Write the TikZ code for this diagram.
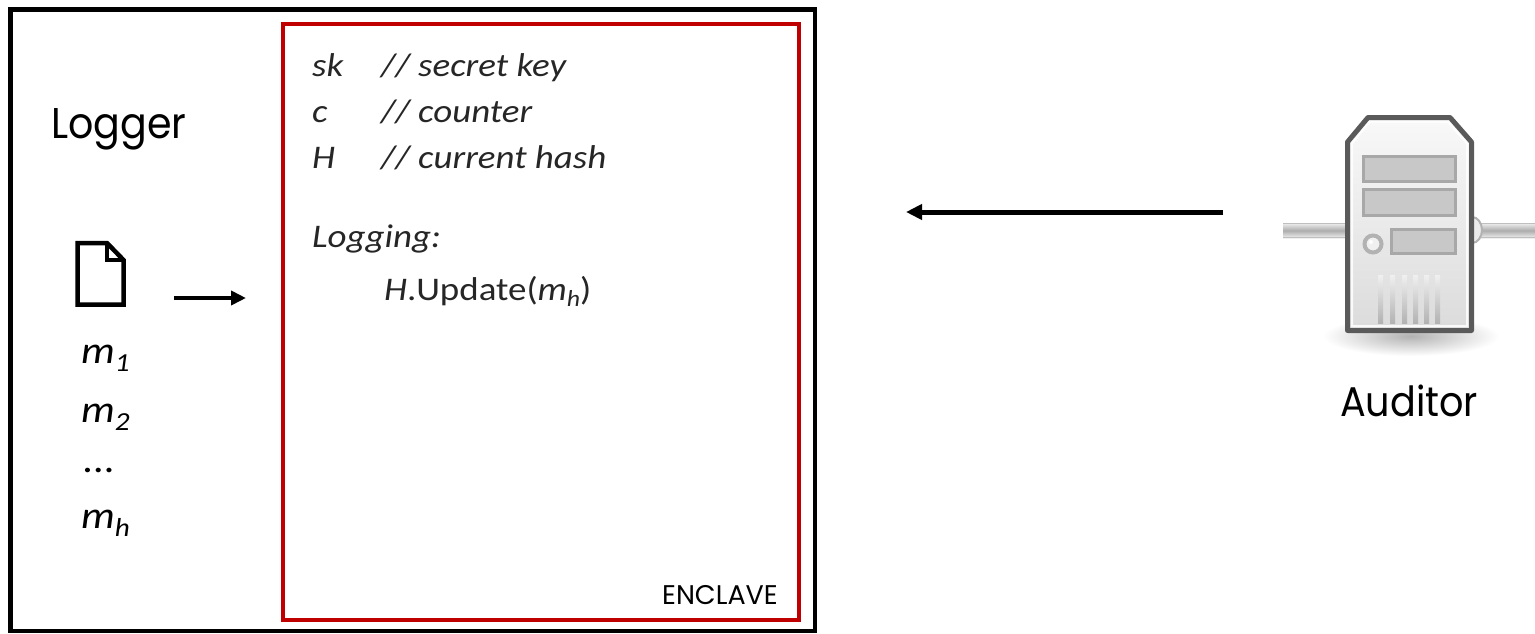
\documentclass[tikz,border=0pt]{standalone}
\usepackage{fontspec}
\setmainfont{Carlito}[FakeStretch=1.12]
\newfontfamily\geo{Poppins}
\newfontfamily\geon{Poppins}[FakeStretch=0.92]
\usetikzlibrary{arrows.meta}
\definecolor{enclavered}{HTML}{C00000}
\definecolor{srvline}{HTML}{5A5A5A}
\definecolor{bayfill}{HTML}{C8C8C8}
\definecolor{bayline}{HTML}{A8A8A8}
\definecolor{codetext}{HTML}{262626}
\newcommand\lowsub[3]{\raisebox{-#1pt}{\fontsize{#2}{#2}\selectfont\itshape #3}}
\begin{document}
\begin{tikzpicture}[x=1pt,y=-1pt,
  outerbox/.style={draw=black,line width=4.5pt},
  enclavebox/.style={draw=enclavered,line width=4pt},
  geotext/.style={font=\geon\fontsize{43}{50}\selectfont, inner sep=0pt, anchor=base west},
  code/.style={font=\fontsize{33}{38}\selectfont, text=codetext, inner sep=0pt, anchor=base west},
  msg/.style={font=\fontsize{38}{44}\selectfont\itshape, inner sep=0pt, anchor=base west},
  arrowline/.style={line width=4pt, -{Triangle[length=15pt,width=14pt]}},
  bay/.style={fill=bayfill, draw=bayline, line width=3pt},
  vent/.style={top color=gray!12, bottom color=gray!60},
]
\useasboundingbox (0,0) rectangle (1535,634);
\fill[white] (0,0) rectangle (1535,634);

% boxes
\draw[outerbox] (10.5,9.5) rectangle (815,631);
\draw[enclavebox] (283,24) rectangle (799,620);

% logger side
\node[geotext] (logger) at (51,138) {Logger};
\draw[line width=4.5pt, line join=miter] (77.5,243) -- (107,243) -- (123.5,260) -- (123.5,304.5) -- (77.5,304.5) -- cycle;
\draw[line width=4.5pt] (107,243) -- (107,260) -- (123.5,260);
\node[msg] (m1) at (81,363) {m\lowsub{8}{26}{1}};
\node[msg] (m2) at (81,422) {m\lowsub{8}{26}{2}};
\node[msg] (mdots) at (83,472) {...};
\node[msg] (mh) at (81,528) {m\lowsub{8}{26}{h}};

% enclave contents
\node[code] (sk) at (312,77) {\itshape sk};
\node[code] (skc) at (381,77) {\itshape // secret key};
\node[code] (c) at (312,122) {\itshape c};
\node[code] (cc) at (381,122) {\itshape // counter};
\node[code] (H) at (312,168) {\itshape H};
\node[code] (Hc) at (381,168) {\itshape // current hash};
\node[code] (logging) at (312,247) {\itshape Logging:};
\node[code] (update) at (384,300) {\textit{H}.Update(\textit{m}\lowsub{6}{23}{h})};
\node[font=\geo\fontsize{27}{30}\selectfont, inner sep=0pt, anchor=base east] (enc) at (778,604) {ENCLAVE};

% arrows
\coordinate (docout) at (174,298);
\coordinate (encin) at (246,298);
\draw[arrowline] (docout) -- (encin);
\coordinate (audout) at (1223,212);
\coordinate (encout) at (906,212);
\draw[line width=5pt, -{Triangle[length=16pt,width=15pt]}] (audout) -- (encout);

% server icon
\shade[inner color=gray!60, outer color=white] (1411,336) ellipse (88 and 20);
\shade[top color=gray!12, bottom color=gray!12, middle color=gray!65] (1283,223) rectangle (1350,238);
\draw[gray!50, line width=1pt] (1283,223.5) -- (1350,223.5) (1283,237.5) -- (1350,237.5);
\shade[top color=gray!12, bottom color=gray!12, middle color=gray!65] (1470,223) rectangle (1535,238);
\draw[gray!50, line width=1pt] (1470,223.5) -- (1535,223.5) (1470,237.5) -- (1535,237.5);
\filldraw[fill=gray!15, draw=gray!60, line width=2pt] (1472,230) ellipse (10 and 13);
\draw[top color=gray!5, bottom color=gray!28, draw=srvline, line width=5pt, line join=round]
  (1368,117.5) -- (1450,117.5) -- (1471.5,142) -- (1471.5,330.5) -- (1347.5,330.5) -- (1347.5,142) -- cycle;
\draw[white, line width=2pt, opacity=0.85]
  (1369.5,122) -- (1448,122) -- (1467,143.5) -- (1467,326) -- (1352,326) -- (1352,143.5) -- cycle;
\filldraw[bay] (1363.5,156.5) rectangle (1455.5,181.5);
\filldraw[bay] (1363.5,189.5) rectangle (1455.5,215.5);
\filldraw[bay] (1391.5,229.5) rectangle (1455.5,253.5);
\filldraw[fill=gray!12, draw=gray!60, line width=4pt] (1373,244) circle (8.5);
\fill[white] (1371,242) circle (2);
\foreach \vx in {1380.5,1392.5,1404.5,1415.5,1426.5,1437.5}
  \shade[vent] (\vx-2.5,275) rectangle (\vx+2.5,323);
\node[geotext, font=\geon\fontsize{41.5}{48}\selectfont] (aud) at (1340,416) {Auditor};
\end{tikzpicture}
\end{document}
